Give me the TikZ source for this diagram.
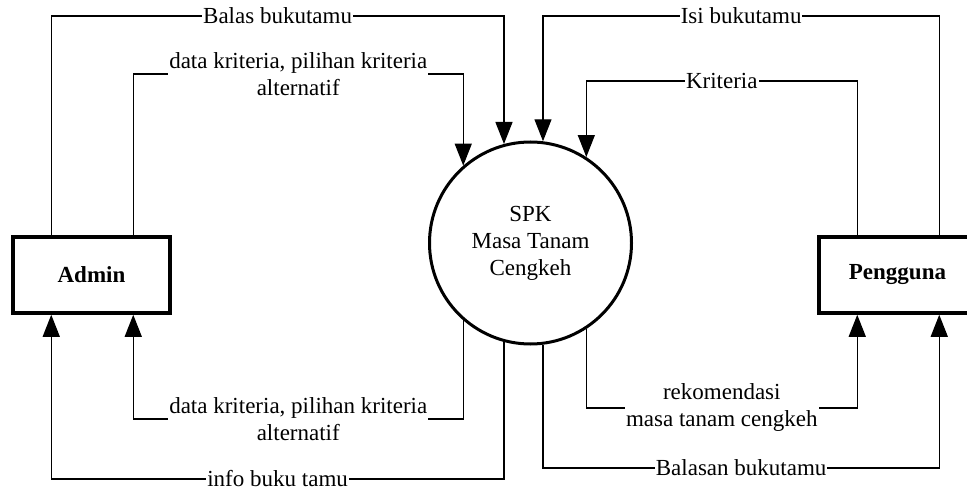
\documentclass[tikz,border=0pt]{standalone}
\usepackage{fontspec}
\setmainfont{Liberation Serif}
\usetikzlibrary{arrows.meta}

\begin{document}
\begin{tikzpicture}[x=1bp, y=-1bp,
  every node/.style={font=\fontsize{23bp}{27bp}\selectfont},
  entity/.style={draw, line width=3.5bp, minimum width=157bp, minimum height=76bp},
  process/.style={draw, circle, line width=3bp, minimum size=202bp, align=center},
  flow/.style={line width=1.3bp, -{Triangle[length=22bp,width=17bp]}},
  lbl/.style={fill=white, inner sep=1bp, align=center}]
\useasboundingbox (0,0) rectangle (967,489);

\node[entity] (admin) at (91.5,275) {\textbf{Admin}};
\node[entity] (pengguna) at (897.5,275) {\textbf{Pengguna}};
\node[process] (spk) at (530.5,243) {SPK\\Masa Tanam\\Cengkeh};

% admin -> spk
\draw[flow] ([xshift=40bp]admin.north west) |- node[lbl, pos=0.75] {Balas bukutamu} (spk.105.6 |- 0,16) -- (spk.105.6);
\draw[flow] ([xshift=122bp]admin.north west) |- node[lbl, pos=0.75] {data kriteria, pilihan kriteria\\alternatif} (spk.131.9 |- 0,74) -- (spk.131.9);
% pengguna -> spk
\draw[flow] ([xshift=122bp]pengguna.north west) |- node[lbl, pos=0.75] {Isi bukutamu} (spk.83 |- 0,16) -- (spk.83);
\draw[flow] ([xshift=40bp]pengguna.north west) |- node[lbl, pos=0.75] {Kriteria} (spk.57.9 |- 0,81) -- (spk.57.9);
% spk -> admin
\draw[flow] (spk.-131.9) -- (spk.-131.9 |- 0,419) -| node[lbl, pos=0.25] {data kriteria, pilihan kriteria\\alternatif} ([xshift=122bp]admin.south west);
\draw[flow] (spk.-105.6) -- (spk.-105.6 |- 0,479) -| node[lbl, pos=0.25] {info buku tamu} ([xshift=40bp]admin.south west);
% spk -> pengguna
\draw[flow] (spk.-57.9) -- (spk.-57.9 |- 0,408) -| node[lbl, pos=0.25] {rekomendasi\\masa tanam cengkeh} ([xshift=40bp]pengguna.south west);
\draw[flow] (spk.-83) -- (spk.-83 |- 0,468) -| node[lbl, pos=0.25] {Balasan bukutamu} ([xshift=122bp]pengguna.south west);
\end{tikzpicture}
\end{document}
